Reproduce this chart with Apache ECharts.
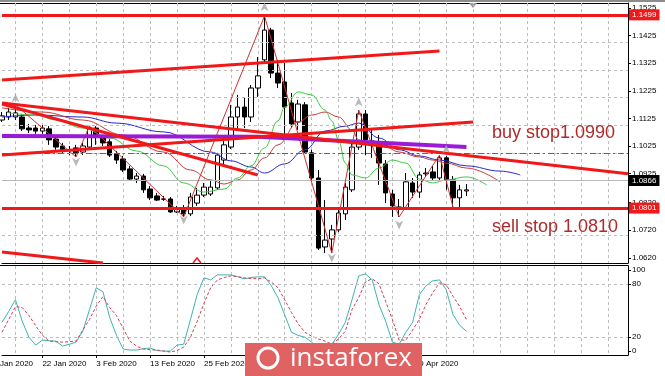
<!DOCTYPE html>
<html><head><meta charset="utf-8">
<script src="https://cdn.jsdelivr.net/npm/echarts@6.0.0/dist/echarts.min.js"></script>
<style>html,body{margin:0;padding:0;background:#fff;}#c{width:665px;height:376px;}</style>
</head><body><div id="c"></div>
<script>
// ---------- data ----------
const dates = ['14 Jan 2020','15 Jan 2020','16 Jan 2020','17 Jan 2020','20 Jan 2020','21 Jan 2020','22 Jan 2020','23 Jan 2020','24 Jan 2020','27 Jan 2020','28 Jan 2020','29 Jan 2020','30 Jan 2020','31 Jan 2020',
'3 Feb 2020','4 Feb 2020','5 Feb 2020','6 Feb 2020','7 Feb 2020','10 Feb 2020','11 Feb 2020','12 Feb 2020','13 Feb 2020','14 Feb 2020','17 Feb 2020','18 Feb 2020','19 Feb 2020','20 Feb 2020','21 Feb 2020','24 Feb 2020','25 Feb 2020','26 Feb 2020','27 Feb 2020','28 Feb 2020',
'2 Mar 2020','3 Mar 2020','4 Mar 2020','5 Mar 2020','6 Mar 2020','9 Mar 2020','10 Mar 2020','11 Mar 2020','12 Mar 2020','13 Mar 2020','16 Mar 2020','17 Mar 2020','18 Mar 2020','19 Mar 2020','20 Mar 2020','23 Mar 2020','24 Mar 2020','25 Mar 2020','26 Mar 2020','27 Mar 2020','30 Mar 2020','31 Mar 2020',
'1 Apr 2020','2 Apr 2020','3 Apr 2020','6 Apr 2020','7 Apr 2020','8 Apr 2020','9 Apr 2020','10 Apr 2020','13 Apr 2020','14 Apr 2020','15 Apr 2020','16 Apr 2020','17 Apr 2020','20 Apr 2020'];
const futureSlots = 24;
const openP  = [1.1119,1.1130,1.1130,1.1130,1.1090,1.1090,1.1079,1.1087,1.1050,1.1025,1.1011,1.1018,1.1003,1.1021,1.1090,1.1054,1.1040,1.0996,1.0978,1.0942,1.0905,1.0916,1.0869,1.0844,1.0833,1.0833,1.0786,1.0800,1.0779,1.0818,1.0847,1.0851,1.0873,1.0974,1.1021,1.1130,1.1166,1.1130,1.1235,1.1337,1.1445,1.1289,1.1257,1.1181,1.1112,1.1174,1.1000,1.0909,1.0659,1.0688,1.0721,1.0779,1.0866,1.1021,1.1141,1.1043,1.1032,1.0960,1.0851,1.0804,1.0800,1.0891,1.0858,1.0924,1.0931,1.0909,1.0982,1.0902,1.0837,1.0862];
const closeP = [1.1134,1.1148,1.1145,1.1087,1.1083,1.1079,1.1090,1.1047,1.1021,1.1007,1.1010,1.1000,1.1025,1.1090,1.1058,1.1036,1.0992,1.0974,1.0938,1.0905,1.0916,1.0866,1.0837,1.0829,1.0832,1.0786,1.0800,1.0779,1.0840,1.0847,1.0876,1.0876,1.0992,1.1029,1.1130,1.1166,1.1130,1.1235,1.1279,1.1445,1.1289,1.1253,1.1166,1.1105,1.1177,1.1003,1.0909,1.0655,1.0684,1.0721,1.0782,1.0876,1.1021,1.1141,1.1047,1.1032,1.0963,1.0855,1.0808,1.0797,1.0895,1.0858,1.0920,1.0927,1.0909,1.0982,1.0902,1.0837,1.0866,1.0866];
const highP  = [1.1148,1.1163,1.1174,1.1141,1.1105,1.1101,1.1101,1.1097,1.1061,1.1036,1.1025,1.1029,1.1036,1.1097,1.1097,1.1065,1.1050,1.1007,1.0989,1.0953,1.0927,1.0924,1.0880,1.0855,1.0844,1.0840,1.0808,1.0811,1.0855,1.0873,1.0891,1.0902,1.1000,1.1047,1.1174,1.1210,1.1199,1.1246,1.1347,1.1496,1.1453,1.1337,1.1326,1.1217,1.1192,1.1184,1.1011,1.0938,1.0829,1.0739,1.0800,1.0891,1.1032,1.1155,1.1155,1.1083,1.1065,1.0974,1.0866,1.0833,1.0927,1.0909,1.0931,1.0945,1.0953,1.0992,1.0989,1.0916,1.0884,1.0887];
const lowP   = [1.1112,1.1119,1.1119,1.1079,1.1072,1.1069,1.1069,1.1029,1.1011,1.1000,1.0992,1.0985,1.0992,1.1014,1.1029,1.1025,1.0985,1.0960,1.0931,1.0898,1.0891,1.0855,1.0829,1.0826,1.0826,1.0782,1.0782,1.0768,1.0771,1.0808,1.0840,1.0844,1.0866,1.0953,1.1014,1.1083,1.1090,1.1112,1.1203,1.1329,1.1271,1.1235,1.1058,1.1090,1.1083,1.0996,1.0895,1.0648,1.0637,1.0637,1.0713,1.0757,1.0858,1.1011,1.0992,1.0982,1.0884,1.0818,1.0768,1.0768,1.0793,1.0837,1.0837,1.0913,1.0898,1.0902,1.0866,1.0804,1.0804,1.0844];

// Alligator: bar index / price
const lipsIdx  = [1,5,8,12,16,20,24,27,30,33,35,37,39,41,42,44,46,48,49,50,51,52,54,56,58,60,62,64,66,69,72];
const lipsVal  = [1.1145,1.1137,1.1119,1.1090,1.1054,1.1007,1.0953,1.0891,1.0858,1.0869,1.0909,1.0953,1.1018,1.1116,1.1166,1.1221,1.1210,1.1155,1.1116,1.1047,1.0963,1.0920,1.0909,1.0945,1.0974,1.0963,1.0905,1.0891,1.0902,1.0913,1.0884];
const teethIdx = [0,6,12,18,24,28,31,33,35,37,39,41,44,46,48,50,52,53,55,57,59,62,64,66,69,74];
const teethVal = [1.1163,1.1148,1.1119,1.1065,1.1003,1.0938,1.0902,1.0887,1.0902,1.0938,1.0982,1.1029,1.1112,1.1137,1.1148,1.1130,1.1083,1.1047,1.1029,1.1021,1.1003,1.0985,1.0974,1.0963,1.0945,1.0895];
const jawIdx   = [0,5,12,17,24,31,34,37,39,42,45,48,51,53,56,59,62,65,69,74,77];
const jawVal   = [1.1130,1.1137,1.1130,1.1108,1.1076,1.1003,1.0971,1.0949,1.0927,1.0960,1.1011,1.1079,1.1097,1.1108,1.1054,1.1011,1.0989,1.0974,1.0953,1.0934,1.0920];

// ZigZag turning points
const zzIdx = [2,11,13,27,39,49,53,59,65,67];
const zzVal = [1.1174,1.0985,1.1097,1.0768,1.1496,1.0637,1.1155,1.0768,1.0992,1.0804];

// Fractal arrows
const fracUpIdx = [2,39,53,66];
const fracUpVal = [1.1199,1.1529,1.1184,1.1014];
const fracDnIdx = [11,27,49,59];
const fracDnVal = [1.0967,1.0757,1.0619,1.0739];

// Trend lines: [startIdx, startPrice, endIdx, endPrice]
const trendLines = [
  [0,1.1264,65,1.1369],
  [0,1.1181,93,1.0924],
  [0,1.1177,38,1.0920],
  [0,1.0992,70,1.1112],
  [0,1.0641,15,1.0601]
];
const purpleIdx = [0,38,69];
const purpleVal = [1.1061,1.1058,1.1021];

// Horizontal levels
const topLevel = 1.1499, bottomLevel = 1.0801, bidLevel = 1.0866;
const greenLevels = [1.0990,1.0810];
const orangeLevels = [1.0940,1.0850];

// Stochastic
const stochK = [36.7,49,62.2,38,20,11.1,16.7,16,15.6,10,12,14.4,26.7,51,75.6,71.1,42.2,22,6.7,5.6,5.6,7,7.8,5,4.4,4.4,11.1,12.2,40,68,86.7,84.4,90,90,90,88,85.6,87,87.8,87.8,78,64.4,45,25.6,22,20,14.4,8,1.1,12,23.3,36.7,62,88.9,91.1,84.4,56.7,37.8,14.4,12.2,25.6,36.7,67.8,77.8,83.3,84.4,73.3,45.6,33.3,26.7];
const stochD = [25.6,40,54.4,53.3,44.4,33,22.2,15.6,15,14.4,15,15.6,28,40,55,65.6,53.3,44.4,30,15.6,10,6.7,6,5.6,4.5,3.3,5,8.9,20,37.8,58,75.6,84.4,87,88.9,88,86.7,86,85.6,86.7,82,75.6,62,47.8,35,25.6,21.1,18,15.6,12.2,18,26.7,51.1,64.4,82.2,85.6,80,60,40,16.7,16.7,28,40,57,70,81.1,78.9,66,54.4,40];

// Axis ticks
const priceTicks = [1.1525,1.1425,1.1325,1.1225,1.1125,1.1025,1.0925,1.0820,1.0720,1.0620];
const stochTickPos = [4.5,20,80,95.5];
const stochTickText = ['0','20','80','100'];
const stochGrid = [20,80];

// ---------- build ----------
const categories = dates.concat(Array.from({length: futureSlots}, () => ''));
const candles = openP.map((o, i) => [o, closeP[i], lowP[i], highP[i]]);
const zip = (a, b) => a.map((v, i) => [v, b[i]]);
const gridFn = (i) => i % 4 === 2;
const labelFn = (i) => i % 8 === 6 && i < dates.length;
const FONT = 'Liberation Sans';
const RED = '#f01818';
const splitStyle = {color: '#bdbdbd', type: [3,3], width: 1};

const series = [];
series.push({
  type: 'candlestick', xAxisIndex: 0, yAxisIndex: 0, data: candles, barWidth: 5, z: 3,
  itemStyle: {color: '#ffffff', color0: '#000000', borderColor: '#000000', borderColor0: '#000000', borderWidth: 1},
  markLine: {
    symbol: 'none', silent: true, animation: false,
    data: [
      ...priceTicks.map(v => ({yAxis: v, lineStyle: splitStyle, label: {show: false}})),
      ...greenLevels.map(v => ({yAxis: v, lineStyle: {color: '#2e8b2e', width: 1, type: [6,3,2,3]}, label: {show: false}})),
      ...orangeLevels.map(v => ({yAxis: v, lineStyle: {color: '#e06a2a', width: 1, type: [6,3,2,3]}, label: {show: false}})),
      {yAxis: bidLevel, lineStyle: {color: '#b8b8b8', width: 1, type: 'solid'},
       label: {show: true, position: 'end', formatter: bidLevel.toFixed(4), backgroundColor: '#000', color: '#fff', fontSize: 8, fontFamily: FONT, padding: [2,3,1,3], distance: 1}},
      {yAxis: topLevel, lineStyle: {color: RED, width: 3, type: 'solid'},
       label: {show: true, position: 'end', formatter: topLevel.toFixed(4), backgroundColor: RED, color: '#fff', fontSize: 8, fontFamily: FONT, padding: [2,3,1,3], distance: 1}},
      {yAxis: bottomLevel, lineStyle: {color: RED, width: 3, type: 'solid'},
       label: {show: true, position: 'end', formatter: bottomLevel.toFixed(4), backgroundColor: RED, color: '#fff', fontSize: 8, fontFamily: FONT, padding: [2,3,1,3], distance: 1}}
    ]
  }
});
const lineBase = {xAxisIndex: 0, yAxisIndex: 0, symbol: 'none', silent: true};
series.push(Object.assign({}, lineBase, {type: 'line', data: zip(jawIdx, jawVal), smooth: 0.4, smoothMonotone: 'x', lineStyle: {color: '#2828c8', width: 1}, z: 4}));
series.push(Object.assign({}, lineBase, {type: 'line', data: zip(teethIdx, teethVal), smooth: 0.4, smoothMonotone: 'x', lineStyle: {color: '#c83c3c', width: 1}, z: 4}));
series.push(Object.assign({}, lineBase, {type: 'line', data: zip(lipsIdx, lipsVal), smooth: 0.4, smoothMonotone: 'x', lineStyle: {color: '#3ccc3c', width: 1}, z: 4}));
series.push(Object.assign({}, lineBase, {type: 'line', data: zip(zzIdx, zzVal), lineStyle: {color: '#d03030', width: 1}, z: 5}));
series.push(Object.assign({}, lineBase, {type: 'line', data: zip(purpleIdx, purpleVal), lineStyle: {color: '#9a1ad8', width: 4}, z: 5}));
trendLines.forEach(t => series.push(Object.assign({}, lineBase, {type: 'line', data: [[t[0], t[1]], [t[2], t[3]]], lineStyle: {color: RED, width: 3}, z: 6})));
series.push({type: 'scatter', xAxisIndex: 0, yAxisIndex: 0, data: zip(fracUpIdx, fracUpVal), symbol: 'path://M5,0 L10,10 L5,7 L0,10 Z', symbolSize: [8,9], itemStyle: {color: '#a6a6a6'}, silent: true, z: 7});
series.push({type: 'scatter', xAxisIndex: 0, yAxisIndex: 0, data: zip(fracDnIdx, fracDnVal), symbol: 'path://M5,0 L10,10 L5,7 L0,10 Z', symbolRotate: 180, symbolSize: [8,9], itemStyle: {color: '#a6a6a6'}, silent: true, z: 7});
series.push({type: 'line', xAxisIndex: 1, yAxisIndex: 1, data: stochK, symbol: 'none', silent: true, z: 3, lineStyle: {color: '#3cb4b0', width: 1},
  markLine: {symbol: 'none', silent: true, animation: false, label: {show: false}, lineStyle: splitStyle, data: stochGrid.map(v => ({yAxis: v}))}});
series.push({type: 'line', xAxisIndex: 1, yAxisIndex: 1, data: stochD, symbol: 'none', silent: true, z: 3, lineStyle: {color: '#d23c50', width: 1, type: [3,2]}});

const option = {
  animation: false,
  backgroundColor: '#ffffff',
  textStyle: {fontFamily: FONT},
  grid: [
    {left: 2, top: 3, width: 626, height: 260},
    {left: 2, top: 266, width: 626, height: 89}
  ],
  xAxis: [
    {type: 'category', gridIndex: 0, data: categories, boundaryGap: false,
     axisLine: {show: true, lineStyle: {color: '#000', width: 1}}, axisTick: {show: false}, axisLabel: {show: false},
     splitLine: {show: true, interval: gridFn, lineStyle: splitStyle}},
    {type: 'category', gridIndex: 1, data: categories, boundaryGap: false,
     axisLine: {show: true, lineStyle: {color: '#000', width: 1}},
     axisTick: {show: true, interval: labelFn, length: 3, lineStyle: {color: '#000'}},
     axisLabel: {show: true, interval: labelFn, align: 'left', fontSize: 8, color: '#000', margin: 5, fontFamily: FONT},
     splitLine: {show: true, interval: gridFn, lineStyle: splitStyle}}
  ],
  yAxis: [
    {type: 'value', gridIndex: 0, position: 'right', min: 1.0601, max: 1.1543,
     axisLine: {show: true, lineStyle: {color: '#000', width: 1}},
     axisTick: {show: true, customValues: priceTicks, length: 3, lineStyle: {color: '#000'}},
     axisLabel: {show: true, customValues: priceTicks, formatter: v => v.toFixed(4), fontSize: 8, color: '#000', margin: 4, fontFamily: FONT},
     splitLine: {show: false}},
    {type: 'value', gridIndex: 1, position: 'right', min: 0, max: 100,
     axisLine: {show: true, lineStyle: {color: '#000', width: 1}},
     axisTick: {show: true, customValues: stochTickPos, length: 3, lineStyle: {color: '#000'}},
     axisLabel: {show: true, customValues: stochTickPos, formatter: v => stochTickText[stochTickPos.indexOf(v)], fontSize: 8, color: '#000', margin: 4, fontFamily: FONT},
     splitLine: {show: false}}
  ],
  series: series,
  graphic: [
    {type: 'line', shape: {x1: 0, y1: 3.5, x2: 628.5, y2: 3.5}, style: {stroke: '#000', lineWidth: 1}, silent: true},
    {type: 'line', shape: {x1: 0, y1: 265.5, x2: 628.5, y2: 265.5}, style: {stroke: '#000', lineWidth: 1}, silent: true},
    {type: 'rect', shape: {x: 0, y: 0, width: 665, height: 2}, style: {fill: '#8c8c8c'}, silent: true},
    {type: 'text', x: -11, y: 364, style: {text: '10 Jan 2020', fontSize: 8, fontFamily: FONT, fill: '#000', verticalAlign: 'middle'}, silent: true},
    {type: 'text', x: 492, y: 133, style: {text: 'buy stop1.0990', fontSize: 18, fontFamily: FONT, fill: '#b02a2a', verticalAlign: 'middle'}, silent: true, z: 10},
    {type: 'text', x: 492, y: 227, style: {text: 'sell stop 1.0810', fontSize: 18, fontFamily: FONT, fill: '#b02a2a', verticalAlign: 'middle'}, silent: true, z: 10},
    {type: 'polygon', shape: {points: [[469, 3], [477, 3], [473, 8]]}, style: {fill: '#9a9a9a'}, silent: true},
    {type: 'polyline', shape: {points: [[193, 263], [197, 258], [201, 263]]}, style: {stroke: RED, lineWidth: 1.5, fill: null}, silent: true},
    {type: 'rect', zlevel: 5, z: 100, shape: {x: 245, y: 343, width: 177, height: 33}, style: {fill: '#e06262'}, silent: true},
    {type: 'circle', zlevel: 5, z: 101, shape: {cx: 268, cy: 358, r: 10}, style: {fill: 'none', stroke: '#fff', lineWidth: 3}, silent: true},
    {type: 'text', zlevel: 5, z: 101, x: 290, y: 359, style: {text: 'instaforex', fontSize: 26, fontFamily: 'Open Sans', fill: '#fff', verticalAlign: 'middle'}, silent: true}
  ]
};
const chart = echarts.init(document.getElementById('c'), null, {renderer: 'canvas'});
chart.setOption(option);
</script></body></html>
